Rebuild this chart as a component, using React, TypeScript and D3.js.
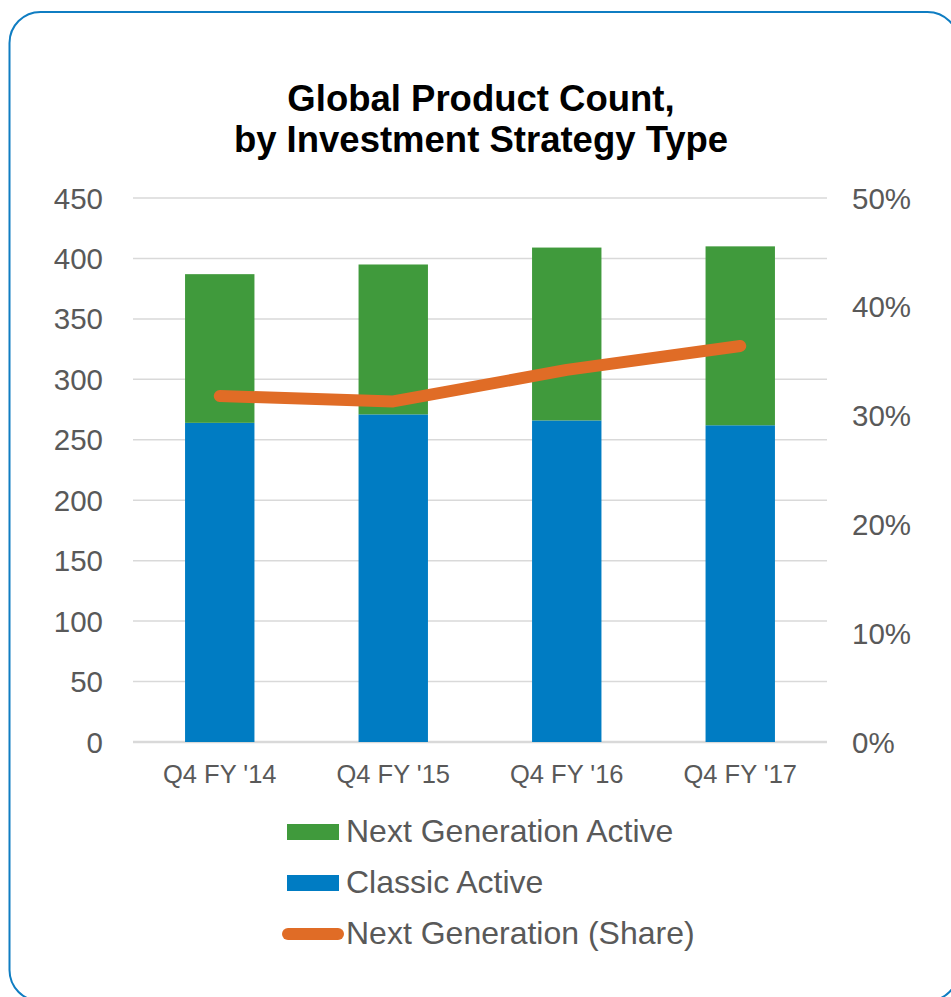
import React from "react";
import * as d3 from "d3";

const categories = ["Q4 FY '14", "Q4 FY '15", "Q4 FY '16", "Q4 FY '17"];
const classicActive = [264, 271, 266, 262];
const nextGenActive = [123, 124, 143, 148];
const nextGenShare = [0.318, 0.313, 0.342, 0.364];
const leftTicks = [0, 50, 100, 150, 200, 250, 300, 350, 400, 450];
const rightTicks = [0, 0.1, 0.2, 0.3, 0.4, 0.5];
const titleLines = ["Global Product Count,", "by Investment Strategy Type"];
const legendLabels = ["Next Generation Active", "Classic Active", "Next Generation (Share)"];

const W = 951;
const H = 997;
const FONT = "'Liberation Sans', Arial, Helvetica, sans-serif";
const GREEN = "#409A3C";
const BLUE = "#007CC3";
const ORANGE = "#E06C26";
const GRID = "#D9D9D9";
const TEXT = "#595959";

export default function App() {
  const plot = { left: 133, right: 827, top: 198, bottom: 742 };

  const x = d3
    .scaleBand<string>()
    .domain(categories)
    .range([plot.left, plot.right])
    .paddingInner(0.6)
    .paddingOuter(0.3);
  const y = d3.scaleLinear().domain([0, 450]).range([plot.bottom, plot.top]);
  const y2 = d3.scaleLinear().domain([0, 0.5]).range([plot.bottom, plot.top]);

  const rows = categories.map((c, i) => ({
    cat: c,
    classic: classicActive[i],
    next: nextGenActive[i],
  }));
  const stack = d3.stack<any>().keys(["classic", "next"]);
  const series = stack(rows);
  const colors: Record<string, string> = { classic: BLUE, next: GREEN };

  const line = d3
    .line<number>()
    .x((_, i) => (x(categories[i]) as number) + x.bandwidth() / 2)
    .y((d) => y2(d));

  const fmtPct = d3.format(".0%");

  return (
    <svg
      width={W}
      height={H}
      style={{ position: "absolute", left: 0, top: 0, background: "#fff" }}
      fontFamily={FONT}
    >
      <rect x={0} y={0} width={W} height={H} fill="#fff" />
      <rect
        x={9.5}
        y={12}
        width={949}
        height={989}
        rx={31}
        ry={31}
        fill="#fff"
        stroke="#0F7DC2"
        strokeWidth={2}
      />

      {titleLines.map((t, i) => (
        <text
          key={t}
          x={481}
          y={111 + i * 41}
          textAnchor="middle"
          fontSize={36.5}
          fontWeight="bold"
          fill="#000"
        >
          {t}
        </text>
      ))}

      {leftTicks.map((t) => (
        <line
          key={"g" + t}
          x1={plot.left}
          x2={plot.right}
          y1={y(t)}
          y2={y(t)}
          stroke={GRID}
          strokeWidth={t === 0 ? 2.5 : 1.5}
        />
      ))}

      {leftTicks.map((t) => (
        <text
          key={"l" + t}
          x={103}
          y={y(t) + 10.5}
          textAnchor="end"
          fontSize={29.5}
          fill={TEXT}
        >
          {t}
        </text>
      ))}

      {rightTicks.map((t) => (
        <text
          key={"r" + t}
          x={852}
          y={y2(t) + 10.5}
          textAnchor="start"
          fontSize={29.5}
          fill={TEXT}
        >
          {fmtPct(t)}
        </text>
      ))}

      {series.map((s) =>
        s.map((d, i) => (
          <rect
            key={s.key + i}
            x={x(categories[i])}
            width={x.bandwidth()}
            y={y(d[1])}
            height={y(d[0]) - y(d[1])}
            fill={colors[s.key]}
          />
        ))
      )}

      {categories.map((c) => (
        <text
          key={"x" + c}
          x={(x(c) as number) + x.bandwidth() / 2}
          y={783}
          textAnchor="middle"
          fontSize={25.5}
          fill={TEXT}
        >
          {c}
        </text>
      ))}

      <path
        d={line(nextGenShare) || ""}
        fill="none"
        stroke={ORANGE}
        strokeWidth={12}
        strokeLinecap="round"
        strokeLinejoin="round"
      />

      {/* legend */}
      <rect x={287} y={824} width={52} height={16} fill={GREEN} />
      <rect x={287} y={875} width={52} height={16} fill={BLUE} />
      <line
        x1={288}
        x2={338}
        y1={934}
        y2={934}
        stroke={ORANGE}
        strokeWidth={12}
        strokeLinecap="round"
      />
      {legendLabels.map((l, i) => (
        <text key={l} x={346} y={842 + i * 51} fontSize={32} fill={TEXT}>
          {l}
        </text>
      ))}
    </svg>
  );
}
